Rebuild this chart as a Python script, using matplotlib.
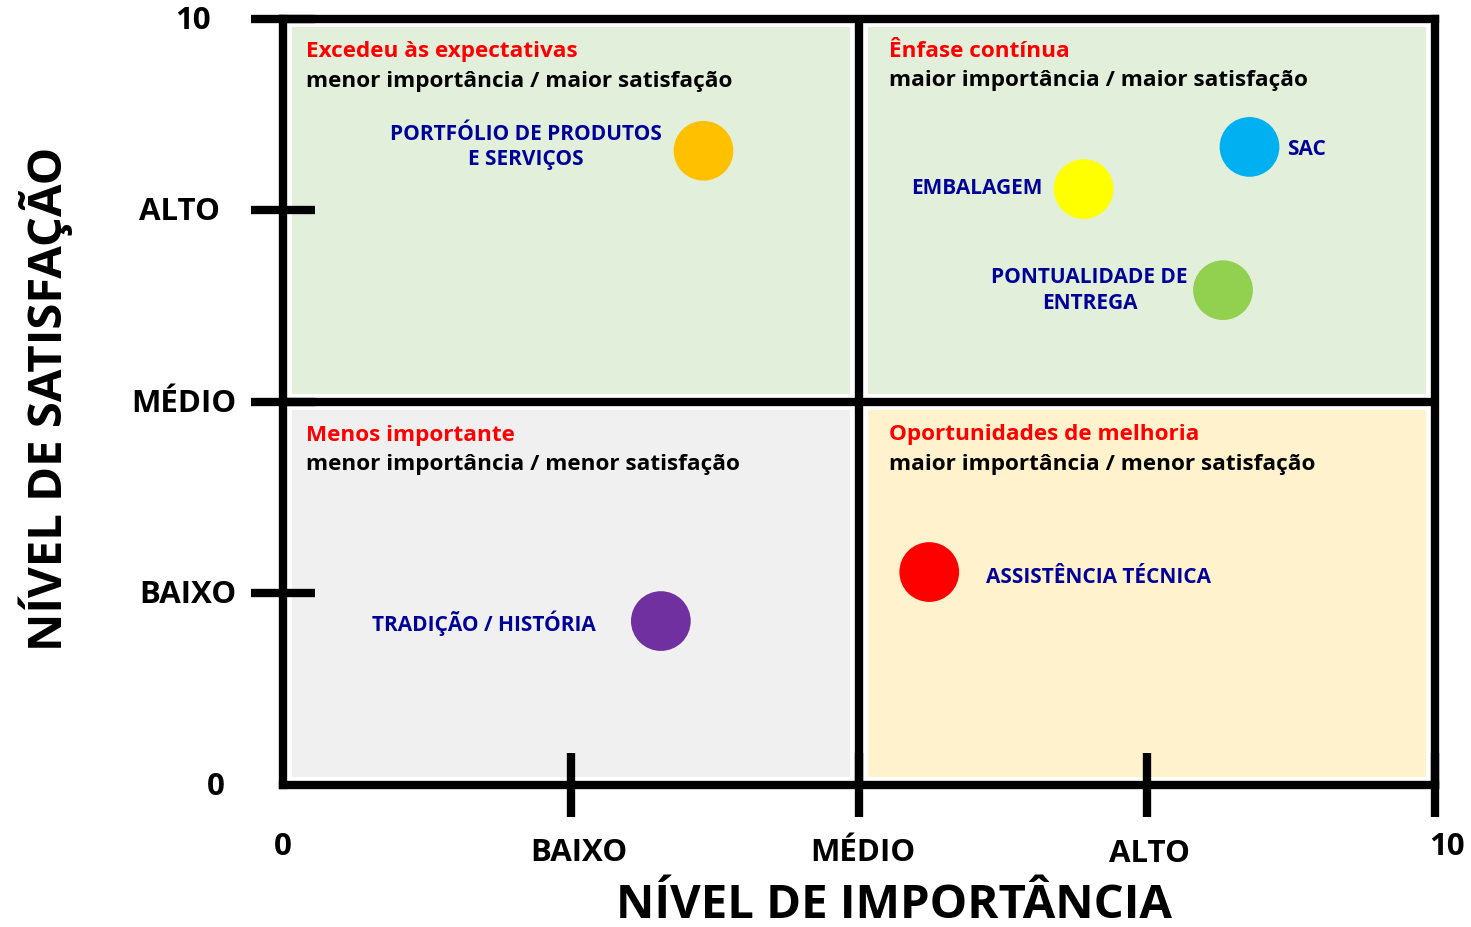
import matplotlib
matplotlib.use("Agg")
import matplotlib.pyplot as plt
from matplotlib.patches import Rectangle
from matplotlib.transforms import blended_transform_factory

plt.rcParams["font.family"] = ["Open Sans", "DejaVu Sans"]
plt.rcParams["font.weight"] = "bold"

# itens avaliados: importância (x) e satisfação (y), escala de 0 a 10
itens = ["PORTFÓLIO DE PRODUTOS\nE SERVIÇOS", "SAC", "EMBALAGEM",
         "PONTUALIDADE DE\nENTREGA", "ASSISTÊNCIA TÉCNICA", "TRADIÇÃO / HISTÓRIA"]
importancia = [3.65, 8.39, 6.95, 8.16, 5.61, 3.28]
satisfacao = [8.28, 8.33, 7.78, 6.46, 2.78, 2.14]
cores = ["#FFC000", "#00B0F0", "#FFFF00", "#92D050", "#FF0000", "#7030A0"]

niveis = [2.5, 5, 7.5, 10]
niveis_rotulos = ["BAIXO", "MÉDIO", "ALTO", "10"]

quadrantes = [
    ("Excedeu às expectativas", "menor importância / maior satisfação"),
    ("Ênfase contínua", "maior importância / maior satisfação"),
    ("Menos importante", "menor importância / menor satisfação"),
    ("Oportunidades de melhoria", "maior importância / menor satisfação"),
]

fig = plt.figure(figsize=(14.71, 9.27), dpi=100)
ax = fig.add_axes([0.1924, 0.1532, 0.7831, 0.8263])
ax.set_xlim(0, 10)
ax.set_ylim(0, 10)

# fundos dos quadrantes (com margem branca)
mx, my = 0.08, 0.1
fundos = [((0, 5), "#E2EFDA"), ((5, 5), "#E2EFDA"),
          ((0, 0), "#F0F0F0"), ((5, 0), "#FFF2CC")]
for (x0, y0), cor in fundos:
    ax.add_patch(Rectangle((x0 + mx, y0 + my), 5 - 2 * mx, 5 - 2 * my,
                           facecolor=cor, edgecolor="none", zorder=0))

lw = 6.0
ax.axvline(5, color="black", lw=lw, zorder=2)
ax.axhline(5, color="black", lw=lw, zorder=2)
for s in ax.spines.values():
    s.set_linewidth(lw)
    s.set_zorder(3)

ax.set_xticks(niveis)
ax.set_yticks(niveis)
ax.set_xticklabels([])
ax.set_yticklabels([])
ax.tick_params(direction="inout", length=46, width=lw, color="black")

# rótulos dos eixos
tx = blended_transform_factory(ax.transData, ax.transAxes)
ty = blended_transform_factory(ax.transAxes, ax.transData)
desloc_x = {2.5: (0.07, -0.089), 5: (0.035, -0.089),
            7.5: (0.026, -0.090), 10: (0.1, -0.081)}
for v, r in zip(niveis, niveis_rotulos):
    dx, dy = desloc_x[v]
    ax.text(v + dx, dy, r, transform=tx, ha="center", va="center",
            fontsize=22.5, fontweight="bold", clip_on=False)
ax.text(0, -0.081, "0", transform=tx, ha="center", va="center",
        fontsize=22.5, fontweight="bold", clip_on=False)
pos_y = {2.5: -0.0825, 5: -0.086, 7.5: -0.0903, 10: -0.078}
for v, r in zip(niveis, niveis_rotulos):
    ax.text(pos_y[v], v - 0.02, r, transform=ty, ha="center", va="center",
            fontsize=22.5, fontweight="bold", clip_on=False)
ax.text(-0.058, -0.02, "0", transform=ty, ha="center", va="center",
        fontsize=22.5, fontweight="bold", clip_on=False)

fig.text(0.608, 0.023, "NÍVEL DE IMPORTÂNCIA", ha="center", va="center",
         fontsize=34, fontweight="bold")
fig.text(0.031, 0.57, "NÍVEL DE SATISFAÇÃO", ha="center", va="center",
         rotation=90, fontsize=34, fontweight="bold")

# títulos dos quadrantes
cantos = [(0.2, 9.57), (5.26, 9.58), (0.2, 4.56), (5.26, 4.57)]
for (x, y), (t1, t2) in zip(cantos, quadrantes):
    ax.text(x, y, t1, color="#FF0000", fontsize=16.2, fontweight="bold",
            ha="left", va="center")
    ax.text(x, y - 0.38, t2, color="black", fontsize=16.2, fontweight="bold",
            ha="left", va="center")

# pontos
ax.scatter(importancia, satisfacao, s=1850, c=cores, edgecolors="none",
           zorder=4)

rotulos = [
    (2.11, 8.33, "center"),
    (8.72, 8.30, "left"),
    (6.59, 7.79, "right"),
    (7.00, 6.46, "center"),
    (6.10, 2.71, "left"),
    (1.74, 2.11, "center"),
]
for nome, (x, y, ha) in zip(itens, rotulos):
    ax.text(x, y, nome, color="#000099", fontsize=15, fontweight="bold",
            ha=ha, va="center", multialignment="center", linespacing=1.3)

fig.savefig("out.png", dpi=100)
